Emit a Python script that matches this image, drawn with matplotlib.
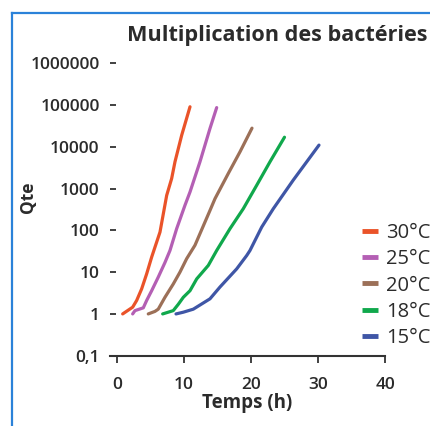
import matplotlib
matplotlib.use("Agg")
import matplotlib.pyplot as plt
from matplotlib.lines import Line2D

plt.rcParams['font.family'] = ['Open Sans', 'DejaVu Sans']

# data (time in hours, quantity)
t30 = [0.85, 2.34, 2.94, 3.69, 4.43, 5.18, 6.42, 7.42, 8.16, 8.66, 9.66, 10.9]
q30 = [1, 1.45, 2.1, 4, 9.1, 23, 91, 690, 1740, 4400, 19000, 91000]
t25 = [2.34, 2.69, 3.93, 4.43, 5.18, 6.16, 7.16, 7.91, 8.91, 10.15, 10.9, 12.39, 13.88, 14.88]
q25 = [1, 1.2, 1.4, 2.1, 3.6, 7.6, 17, 33, 110, 400, 830, 4400, 27500, 87000]
t20 = [4.67, 5.67, 6.16, 7.16, 8.4, 9.4, 10.4, 11.64, 13.88, 14.63, 16.61, 18.36, 20.15]
q20 = [1, 1.15, 1.3, 2.5, 5.2, 10, 21, 44, 300, 575, 2300, 7600, 28000]
t18 = [6.82, 8.4, 9.15, 9.9, 10.9, 11.9, 13.63, 14.88, 16.87, 18.85, 20.85, 22.84, 25.0]
q18 = [1, 1.2, 1.7, 2.5, 3.6, 6.9, 14.5, 33, 110, 330, 1200, 4400, 17000]
t15 = [8.81, 9.9, 11.39, 13.88, 15.37, 17.87, 19.36, 19.85, 21.6, 23.33, 26.31, 30.15]
q15 = [1, 1.1, 1.3, 2.3, 4.4, 12, 25, 33, 120, 330, 1600, 11000]

labels = ['30°C', '25°C', '20°C', '18°C', '15°C']
colors = ['#ea5329', '#b45fb4', '#9c7058', '#10a84c', '#3f56a6']

ytick_vals = [0.1, 1, 10, 100, 1000, 10000, 100000, 1000000]
ytick_labels = ['0,1', '1', '10', '100', '1000', '10000', '100000', '1000000']
xtick_vals = [0, 10, 20, 30, 40]

txt = '#2b2b2b'

fig = plt.figure(figsize=(4.31, 4.26), dpi=100)
ax = fig.add_axes([110/431, 1-355.7/426, 275/431, (355.7-63.3)/426])

series = [(t30, q30), (t25, q25), (t20, q20), (t18, q18), (t15, q15)]
for (t, q), lab, c in zip(series, labels, colors):
    ax.plot(t, q, color=c, lw=2.3, label=lab, solid_capstyle='round')

ax.set_yscale('log')
ax.set_ylim(0.1, 1000000)
ax.set_xlim(-1.04, 40)
ax.set_yticks(ytick_vals)
ax.set_yticklabels(ytick_labels)
ax.minorticks_off()
ax.set_xticks(xtick_vals)

for s in ['top', 'right', 'left']:
    ax.spines[s].set_visible(False)
ax.spines['bottom'].set_color('#333333')
ax.spines['bottom'].set_linewidth(1.5)

ax.tick_params(axis='y', direction='in', length=4.5, width=1.3, color='#333333',
               pad=7.5, labelsize=12.5, labelcolor=txt)
ax.tick_params(axis='x', direction='out', length=5, width=1.3, color='#333333',
               pad=10, labelsize=12.5, labelcolor=txt)
for lb in ax.get_xticklabels() + ax.get_yticklabels():
    lb.set_fontweight('semibold')

ax.set_xlabel('Temps (h)', fontsize=13.5, fontweight='bold', color=txt, labelpad=0)
fig.text(28/431, 1-197/426, 'Qte', rotation=90, ha='center', va='center',
         fontsize=12.5, fontweight='bold', color=txt)
fig.text(428/431, 1-36/426, 'Multiplication des bactéries', ha='right', va='center',
         fontsize=15.6, fontweight='bold', color=txt)

leg = ax.legend(loc='center left', bbox_to_anchor=(0.916, 0.24), frameon=False,
                fontsize=14.5, handlelength=0.8, handletextpad=0.4, labelspacing=0.3,
                borderaxespad=0, borderpad=0)
for h in leg.get_lines():
    h.set_linewidth(3.5)
    h.set_solid_capstyle('butt')
for tx in leg.get_texts():
    tx.set_color(txt)

# blue frame on the left and top
fig.add_artist(Line2D([12.5/431, 12.5/431], [0, 1-12.5/426], transform=fig.transFigure,
                      color='#2b82d9', lw=1.6))
fig.add_artist(Line2D([12.5/431, 1], [1-12.5/426, 1-12.5/426], transform=fig.transFigure,
                      color='#2b82d9', lw=1.6))

fig.savefig('out.png', dpi=100)
